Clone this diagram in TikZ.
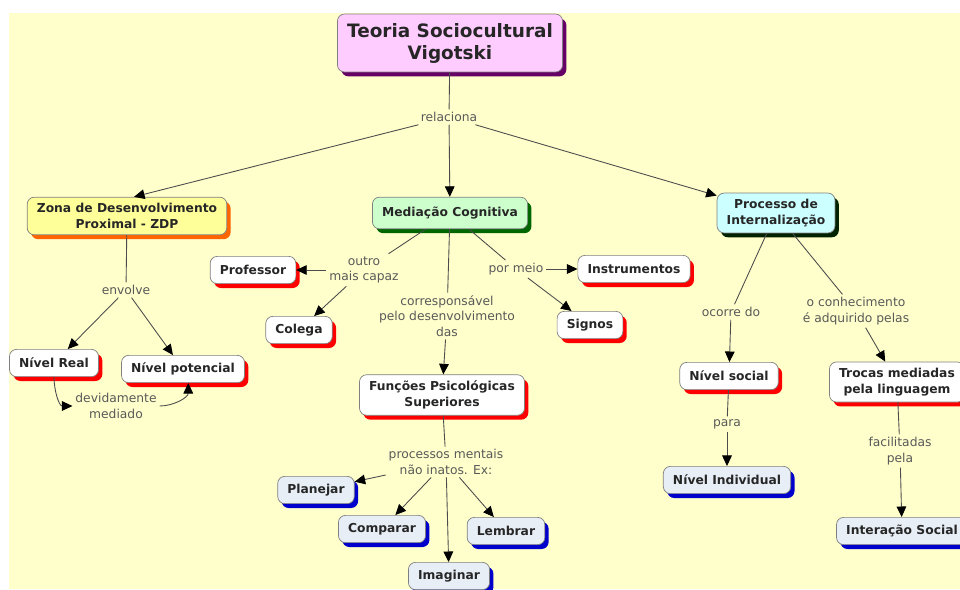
\documentclass[tikz,border=0pt]{standalone}
\usepackage{fontspec}
\setmainfont{DejaVu Sans}
\usetikzlibrary{arrows.meta, shadows}

\definecolor{fundo}{HTML}{FFFFCC}
\definecolor{rosa}{HTML}{FFCCFF}
\definecolor{roxo}{HTML}{660066}
\definecolor{amarelo}{HTML}{FFFF99}
\definecolor{laranja}{HTML}{FF6600}
\definecolor{verdeclaro}{HTML}{CCFFCC}
\definecolor{verde}{HTML}{006600}
\definecolor{ciano}{HTML}{CCFFFF}
\definecolor{verdeescuro}{HTML}{002200}
\definecolor{azulclaro}{HTML}{E8EEF6}
\definecolor{azul}{HTML}{0000CC}

\begin{document}
\begin{tikzpicture}[x=0.02cm, y=-0.02cm,
    conceito/.style={draw=black!50, rounded corners=4pt, align=center,
        font=\bfseries\fontsize{7}{9}\selectfont, inner xsep=5.5pt, inner ysep=3.5pt,
        minimum height=15.5pt, text=black!85},
    sombra/.style={drop shadow={shadow xshift=2.2pt, shadow yshift=-2.5pt, fill=#1, opacity=1}},
    branco/.style={conceito, fill=white, sombra=red},
    azulado/.style={conceito, fill=azulclaro, sombra=azul},
    rotulo/.style={text=black!65, align=center, inner sep=1.5pt,
        font=\fontsize{7}{8.8}\selectfont},
    liga/.style={draw=black!70, line width=0.5pt},
    seta/.style={liga, -{Triangle[length=6pt, width=5.5pt, color=black]}}]

    \useasboundingbox (0,0) rectangle (960,589);
    \fill[fundo] (9,13) rectangle (960,589);

    \node[conceito, fill=rosa, sombra=roxo, font=\bfseries\fontsize{10.5}{12.5}\selectfont,
        minimum height=33pt] (raiz) at (450,43) {Teoria Sociocultural\\Vigotski};
    \node[conceito, fill=amarelo, sombra=laranja] (zdp) at (127,216) {Zona de Desenvolvimento\\Proximal - ZDP};
    \node[conceito, fill=verdeclaro, sombra=verde, minimum height=18pt] (med) at (450,213) {Mediação Cognitiva};
    \node[conceito, fill=ciano, sombra=verdeescuro] (proc) at (776,213) {Processo de\\Internalização};

    \node[branco] (real) at (54,363) {Nível Real};
    \node[branco] (pot) at (183,369) {Nível potencial};
    \node[branco] (prof) at (253,270) {Professor};
    \node[branco] (coleg) at (299,330) {Colega};
    \node[branco] (instr) at (634,269) {Instrumentos};
    \node[branco] (signos) at (590,325) {Signos};
    \node[branco] (fps) at (442,395) {Funções Psicológicas\\Superiores};
    \node[branco] (nsoc) at (729,376) {Nível social};
    \node[branco] (trocas) at (897,382) {Trocas mediadas\\pela linguagem};

    \node[azulado] (plan) at (316,490) {Planejar};
    \node[azulado] (comp) at (382,529) {Comparar};
    \node[azulado] (lemb) at (506,531) {Lembrar};
    \node[azulado] (imag) at (449,576) {Imaginar};
    \node[azulado] (nind) at (727,480) {Nível Individual};
    \node[azulado] (inter) at (902,531) {Interação Social};

    \node[rotulo] (relac) at (449,117) {relaciona};
    \node[rotulo] (envolve) at (126,290) {envolve};
    \node[rotulo] (devid) at (116,406) {devidamente\\mediado};
    \node[rotulo] (outro) at (364,270) {outro\\mais capaz};
    \node[rotulo] (corresp) at (447,316) {corresponsável\\pelo desenvolvimento\\das};
    \node[rotulo] (pormeio) at (516,269) {por meio};
    \node[rotulo] (procm) at (446,462) {processos mentais\\não inatos. Ex:};
    \node[rotulo] (ocorre) at (731,312) {ocorre do};
    \node[rotulo] (conhec) at (856,311) {o conhecimento\\é adquirido pelas};
    \node[rotulo] (para) at (727,424) {para};
    \node[rotulo] (facil) at (900,451) {facilitadas\\pela};

    \draw[liga] (raiz) -- (relac);
    \draw[seta] (relac) -- ([xshift=4pt]zdp.north);
    \draw[seta] (relac) -- (med);
    \draw[seta] (relac) -- (proc);

    \draw[liga] (zdp) -- (envolve);
    \draw[seta] (envolve) -- (real);
    \draw[seta] (envolve) -- (pot);
    \draw[seta] (real.south) to[out=-90, in=180] (devid.west);
    \draw[seta] (devid.east) to[out=0, in=-90] ([xshift=3pt]pot.south);

    \draw[liga] (med) -- (outro);
    \draw[seta] (outro) -- (prof);
    \draw[seta] (outro) -- (coleg);
    \draw[liga] (med) -- (corresp);
    \draw[seta] (corresp) -- (fps);
    \draw[liga] (med) -- (pormeio);
    \draw[seta] (pormeio) -- (instr);
    \draw[seta] (pormeio) -- (signos);

    \draw[liga] (fps) -- (procm);
    \draw[seta] (procm) -- (plan);
    \draw[seta] (procm) -- (comp);
    \draw[seta] (procm) -- (imag);
    \draw[seta] (procm) -- (lemb);

    \draw[liga] (proc) -- (ocorre);
    \draw[seta] (ocorre) -- (nsoc);
    \draw[liga] (proc) -- (conhec);
    \draw[seta] (conhec) -- (trocas);
    \draw[liga] (nsoc) -- (para);
    \draw[seta] (para) -- (nind);
    \draw[liga] (trocas) -- (facil);
    \draw[seta] (facil) -- (inter);
\end{tikzpicture}
\end{document}
